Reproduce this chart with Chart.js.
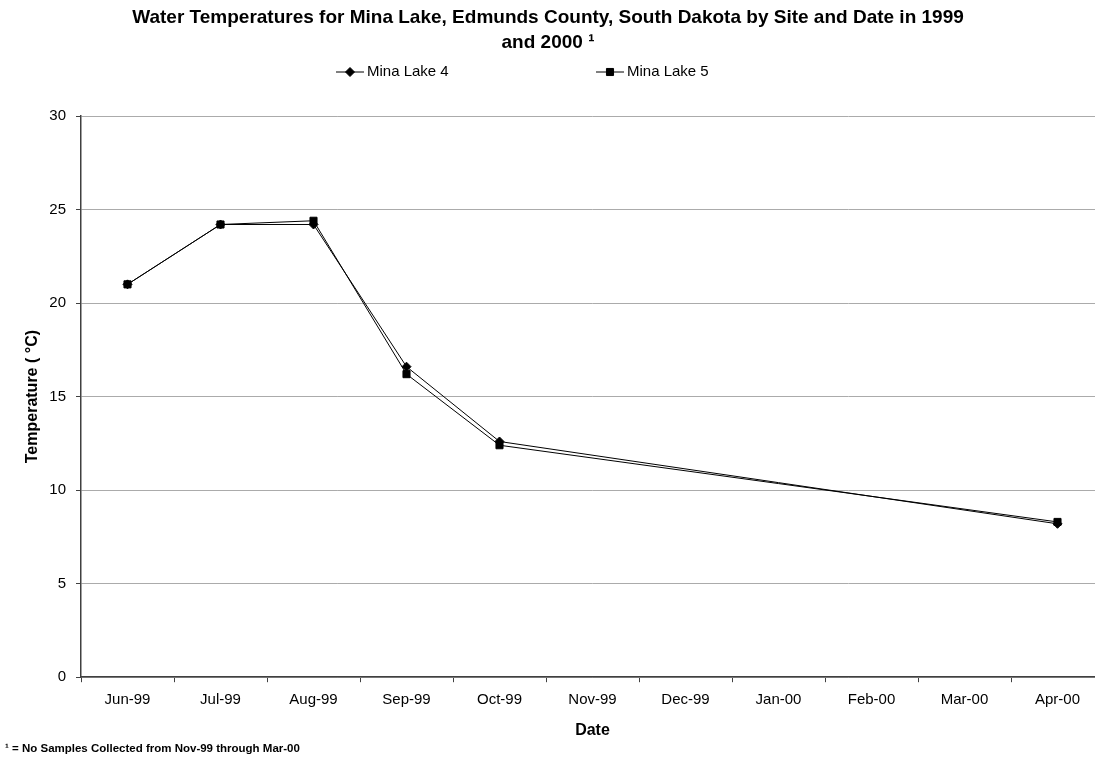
<!DOCTYPE html>
<html lang="en">
<head>
  <meta charset="UTF-8" />
  <title>Mina Lake Water Temperatures</title>
  <script src="https://cdn.jsdelivr.net/npm/chart.js"></script>
  <style>
    * { margin: 0; padding: 0; box-sizing: border-box; }
    body { background: #fff; overflow: hidden; width: 1095px; height: 758px; }
    /* plot area runs past the right edge of the picture, as in the original */
    .chart-box { position: relative; width: 1110px; height: 758px; }
  </style>
</head>
<body>
  <div class="chart-box">
    <canvas id="tempChart"></canvas>
  </div>

  <script>
    const months = ["Jun-99", "Jul-99", "Aug-99", "Sep-99", "Oct-99", "Nov-99",
                    "Dec-99", "Jan-00", "Feb-00", "Mar-00", "Apr-00"];
    // no samples Nov-99 through Mar-00
    const lake4 = [21.0, 24.2, 24.2, 16.6, 12.6, null, null, null, null, null, 8.2];
    const lake5 = [21.0, 24.2, 24.4, 16.2, 12.4, null, null, null, null, null, 8.3];
    const yTicks = [0, 5, 10, 15, 20, 25, 30];

    const FONT = "'Liberation Sans', Arial, sans-serif";
    const axisColor = "#404040";
    const titleCenter = 548;

    // keep the title centred on the visible picture
    const centerTitle = {
      id: "centerTitle",
      afterLayout(chart) {
        const t = chart.titleBlock;
        if (t) t.right = 2 * titleCenter - t.left;
      }
    };

    // legend drawn as line + marker, spaced like the original
    const lineLegend = {
      id: "lineLegend",
      afterDraw(chart) {
        const ctx = chart.ctx;
        const y = 72;
        const starts = [titleCenter - 212, titleCenter + 48];
        ctx.save();
        chart.data.datasets.forEach((ds, i) => {
          const x0 = starts[i];
          ctx.strokeStyle = "#000";
          ctx.lineWidth = 1;
          ctx.beginPath();
          ctx.moveTo(x0, y);
          ctx.lineTo(x0 + 28, y);
          ctx.stroke();
          ctx.fillStyle = "#000";
          Chart.helpers.drawPoint(ctx, {
            pointStyle: ds.pointStyle, radius: ds.pointRadius, borderWidth: 1
          }, x0 + 14, y);
          ctx.font = "15px " + FONT;
          ctx.textBaseline = "middle";
          ctx.textAlign = "left";
          ctx.fillText(ds.label, x0 + 31, y);
        });
        ctx.restore();
      }
    };

    new Chart(document.getElementById("tempChart"), {
      type: "line",
      data: {
        labels: months,
        datasets: [
          {
            label: "Mina Lake 4",
            data: lake4,
            borderColor: "#000",
            backgroundColor: "#000",
            borderWidth: 1,
            pointStyle: "rectRot",
            pointRadius: 4.5,
            spanGaps: true,
            order: 2
          },
          {
            label: "Mina Lake 5",
            data: lake5,
            borderColor: "#000",
            backgroundColor: "#000",
            borderWidth: 1,
            pointStyle: "rect",
            pointRadius: 5,
            spanGaps: true,
            order: 1
          }
        ]
      },
      options: {
        responsive: true,
        maintainAspectRatio: false,
        animation: false,
        layout: { padding: { left: 5, right: 0, top: 0, bottom: 0 } },
        plugins: {
          legend: { display: false },
          tooltip: { enabled: false },
          title: {
            display: true,
            text: ["Water Temperatures for Mina Lake, Edmunds County, South Dakota by Site and Date in 1999",
                   "and 2000 \u00B9"],
            color: "#000",
            font: { family: FONT, size: 19, weight: "bold", lineHeight: 25 / 19 },
            padding: { top: 5.5, bottom: 60.5 }
          },
          subtitle: {
            display: true,
            position: "bottom",
            align: "start",
            text: "\u00B9 = No Samples Collected from Nov-99 through Mar-00",
            color: "#000",
            font: { family: FONT, size: 11.5, weight: "bold", lineHeight: 1.2 },
            padding: { top: 0, bottom: 2 }
          }
        },
        scales: {
          x: {
            type: "category",
            offset: true,
            afterFit: s => { s.height = 65; },
            grid: {
              display: true,
              offset: true,
              drawOnChartArea: false,
              drawTicks: true,
              tickLength: 5,
              tickColor: axisColor
            },
            border: { display: true, color: axisColor, width: 1.5 },
            ticks: {
              color: "#000",
              font: { family: FONT, size: 15 },
              padding: 9,
              maxRotation: 0,
              autoSkip: false
            },
            title: {
              display: true,
              text: "Date",
              color: "#000",
              font: { family: FONT, size: 16, weight: "bold" },
              padding: { top: 0, bottom: 2.4 }
            }
          },
          y: {
            min: 0,
            max: 30,
            afterFit: s => { s.width = 76; },
            afterBuildTicks: s => { s.ticks = yTicks.map(v => ({ value: v })); },
            grid: {
              color: "#ababab",
              lineWidth: 1,
              drawTicks: true,
              tickLength: 5,
              tickColor: axisColor
            },
            border: { display: true, color: axisColor, width: 1.5 },
            ticks: {
              color: "#000",
              font: { family: FONT, size: 15 },
              padding: 10
            },
            title: {
              display: true,
              text: "Temperature ( \u00B0C)",
              color: "#000",
              font: { family: FONT, size: 16, weight: "bold" },
              padding: { top: 18.4, bottom: 0 }
            }
          }
        }
      },
      plugins: [centerTitle, lineLegend]
    });
  </script>
</body>
</html>
